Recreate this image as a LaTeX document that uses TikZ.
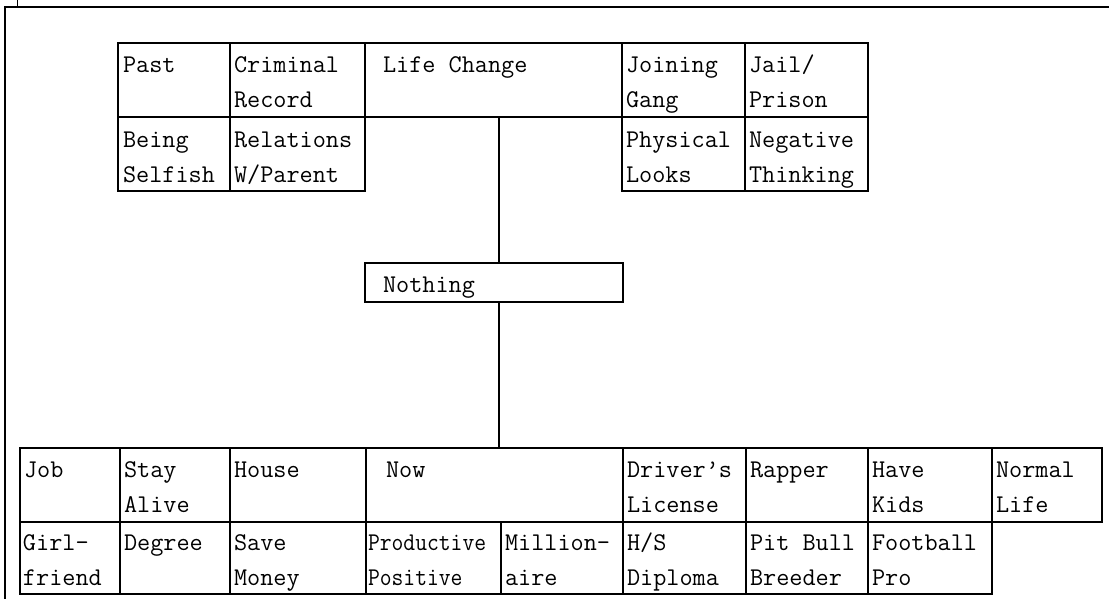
\documentclass[tikz,border=0pt]{standalone}
\usepackage{fontspec}
\usetikzlibrary{calc}
\tikzset{
  cellbox/.style={draw, line width=1.3pt, anchor=north west, inner sep=0pt, outer sep=0pt},
  celltxt/.style={anchor=north west, inner sep=0pt, outer sep=0pt, align=left,
    font=\ttfamily\fontsize{25.5}{35}\selectfont},
  link/.style={draw, line width=1.3pt},
  frameline/.style={draw, line width=1.6pt},
}
% name, x, y, width, height, padx, pady, text
\newcommand\mkcell[8]{%
  \node[cellbox, minimum width=#4pt, minimum height=#5pt] (#1) at (#2,#3) {};
  \node[celltxt] (#1t) at ($(#1.north west)+(#6,#7)$) {\strut #8};
}
\begin{document}
\begin{tikzpicture}[x=1pt, y=-1pt]
\useasboundingbox (0,0) rectangle (1109,599);
% outer frame
\coordinate (fa) at (5,599);
\coordinate (fb) at (5,7);
\coordinate (fc) at (1109,7);
\draw[frameline] (fa) -- (fb) -- (fc);
\coordinate (sa) at (17,0);
\coordinate (sb) at (17,7);
\draw[line width=1pt] (sa) -- (sb);

% top group, row 1
\mkcell{past}{118}{43}{112}{74}{5}{5.5}{Past}
\mkcell{crim}{230}{43}{135}{74}{4}{5.5}{Criminal\\Record}
\mkcell{lc}{365}{43}{257}{74}{18}{5.5}{Life Change}
\mkcell{gang}{622}{43}{123}{74}{4}{5.5}{Joining\\Gang}
\mkcell{jail}{745}{43}{123}{74}{4}{5.5}{Jail/\\Prison}
% top group, row 2
\mkcell{self}{118}{117}{112}{74}{5}{6}{Being\\Selfish}
\mkcell{rel}{230}{117}{135}{74}{4}{6}{Relations\\W/Parent}
\mkcell{phys}{622}{117}{123}{74}{4}{6}{Physical\\Looks}
\mkcell{neg}{745}{117}{123}{74}{4}{6}{Negative\\Thinking}

% middle
\mkcell{noth}{365}{263}{258}{39}{18}{5}{Nothing}

% bottom group, row 1
\mkcell{job}{20}{448}{100}{74}{4}{5}{Job}
\mkcell{alive}{120}{448}{110}{74}{4}{5}{Stay\\Alive}
\mkcell{house}{230}{448}{136}{74}{4}{5}{House}
\mkcell{now}{366}{448}{257}{74}{20}{5}{Now}
\mkcell{drv}{623}{448}{123}{74}{4}{5}{Driver’s\\License}
\mkcell{rap}{746}{448}{122}{74}{4}{5}{Rapper}
\mkcell{kids}{868}{448}{124}{74}{4}{5}{Have\\Kids}
\mkcell{norm}{992}{448}{110}{74}{4}{5}{Normal\\Life}
% bottom group, row 2
\mkcell{girl}{20}{522}{100}{72}{3}{4}{Girl-\\friend}
\mkcell{deg}{120}{522}{110}{72}{4}{4}{Degree}
\mkcell{save}{230}{522}{136}{72}{4}{4}{Save\\Money}
\mkcell{prod}{366}{522}{135}{72}{2}{4}{\scalebox{0.9}[1]{Productive}\\\scalebox{0.9}[1]{Positive}}
\mkcell{mill}{501}{522}{122}{72}{4}{4}{Million-\\aire}
\mkcell{hs}{623}{522}{123}{72}{4}{4}{H/S\\Diploma}
\mkcell{pit}{746}{522}{122}{72}{4}{4}{Pit Bull\\Breeder}
\mkcell{foot}{868}{522}{124}{72}{4}{4}{Football\\Pro}

% connectors
\coordinate (vx) at (499,0);
\draw[link] (lc.south -| vx) -- (noth.north -| vx);
\draw[link] (noth.south -| vx) -- (now.north -| vx);
\end{tikzpicture}
\end{document}
